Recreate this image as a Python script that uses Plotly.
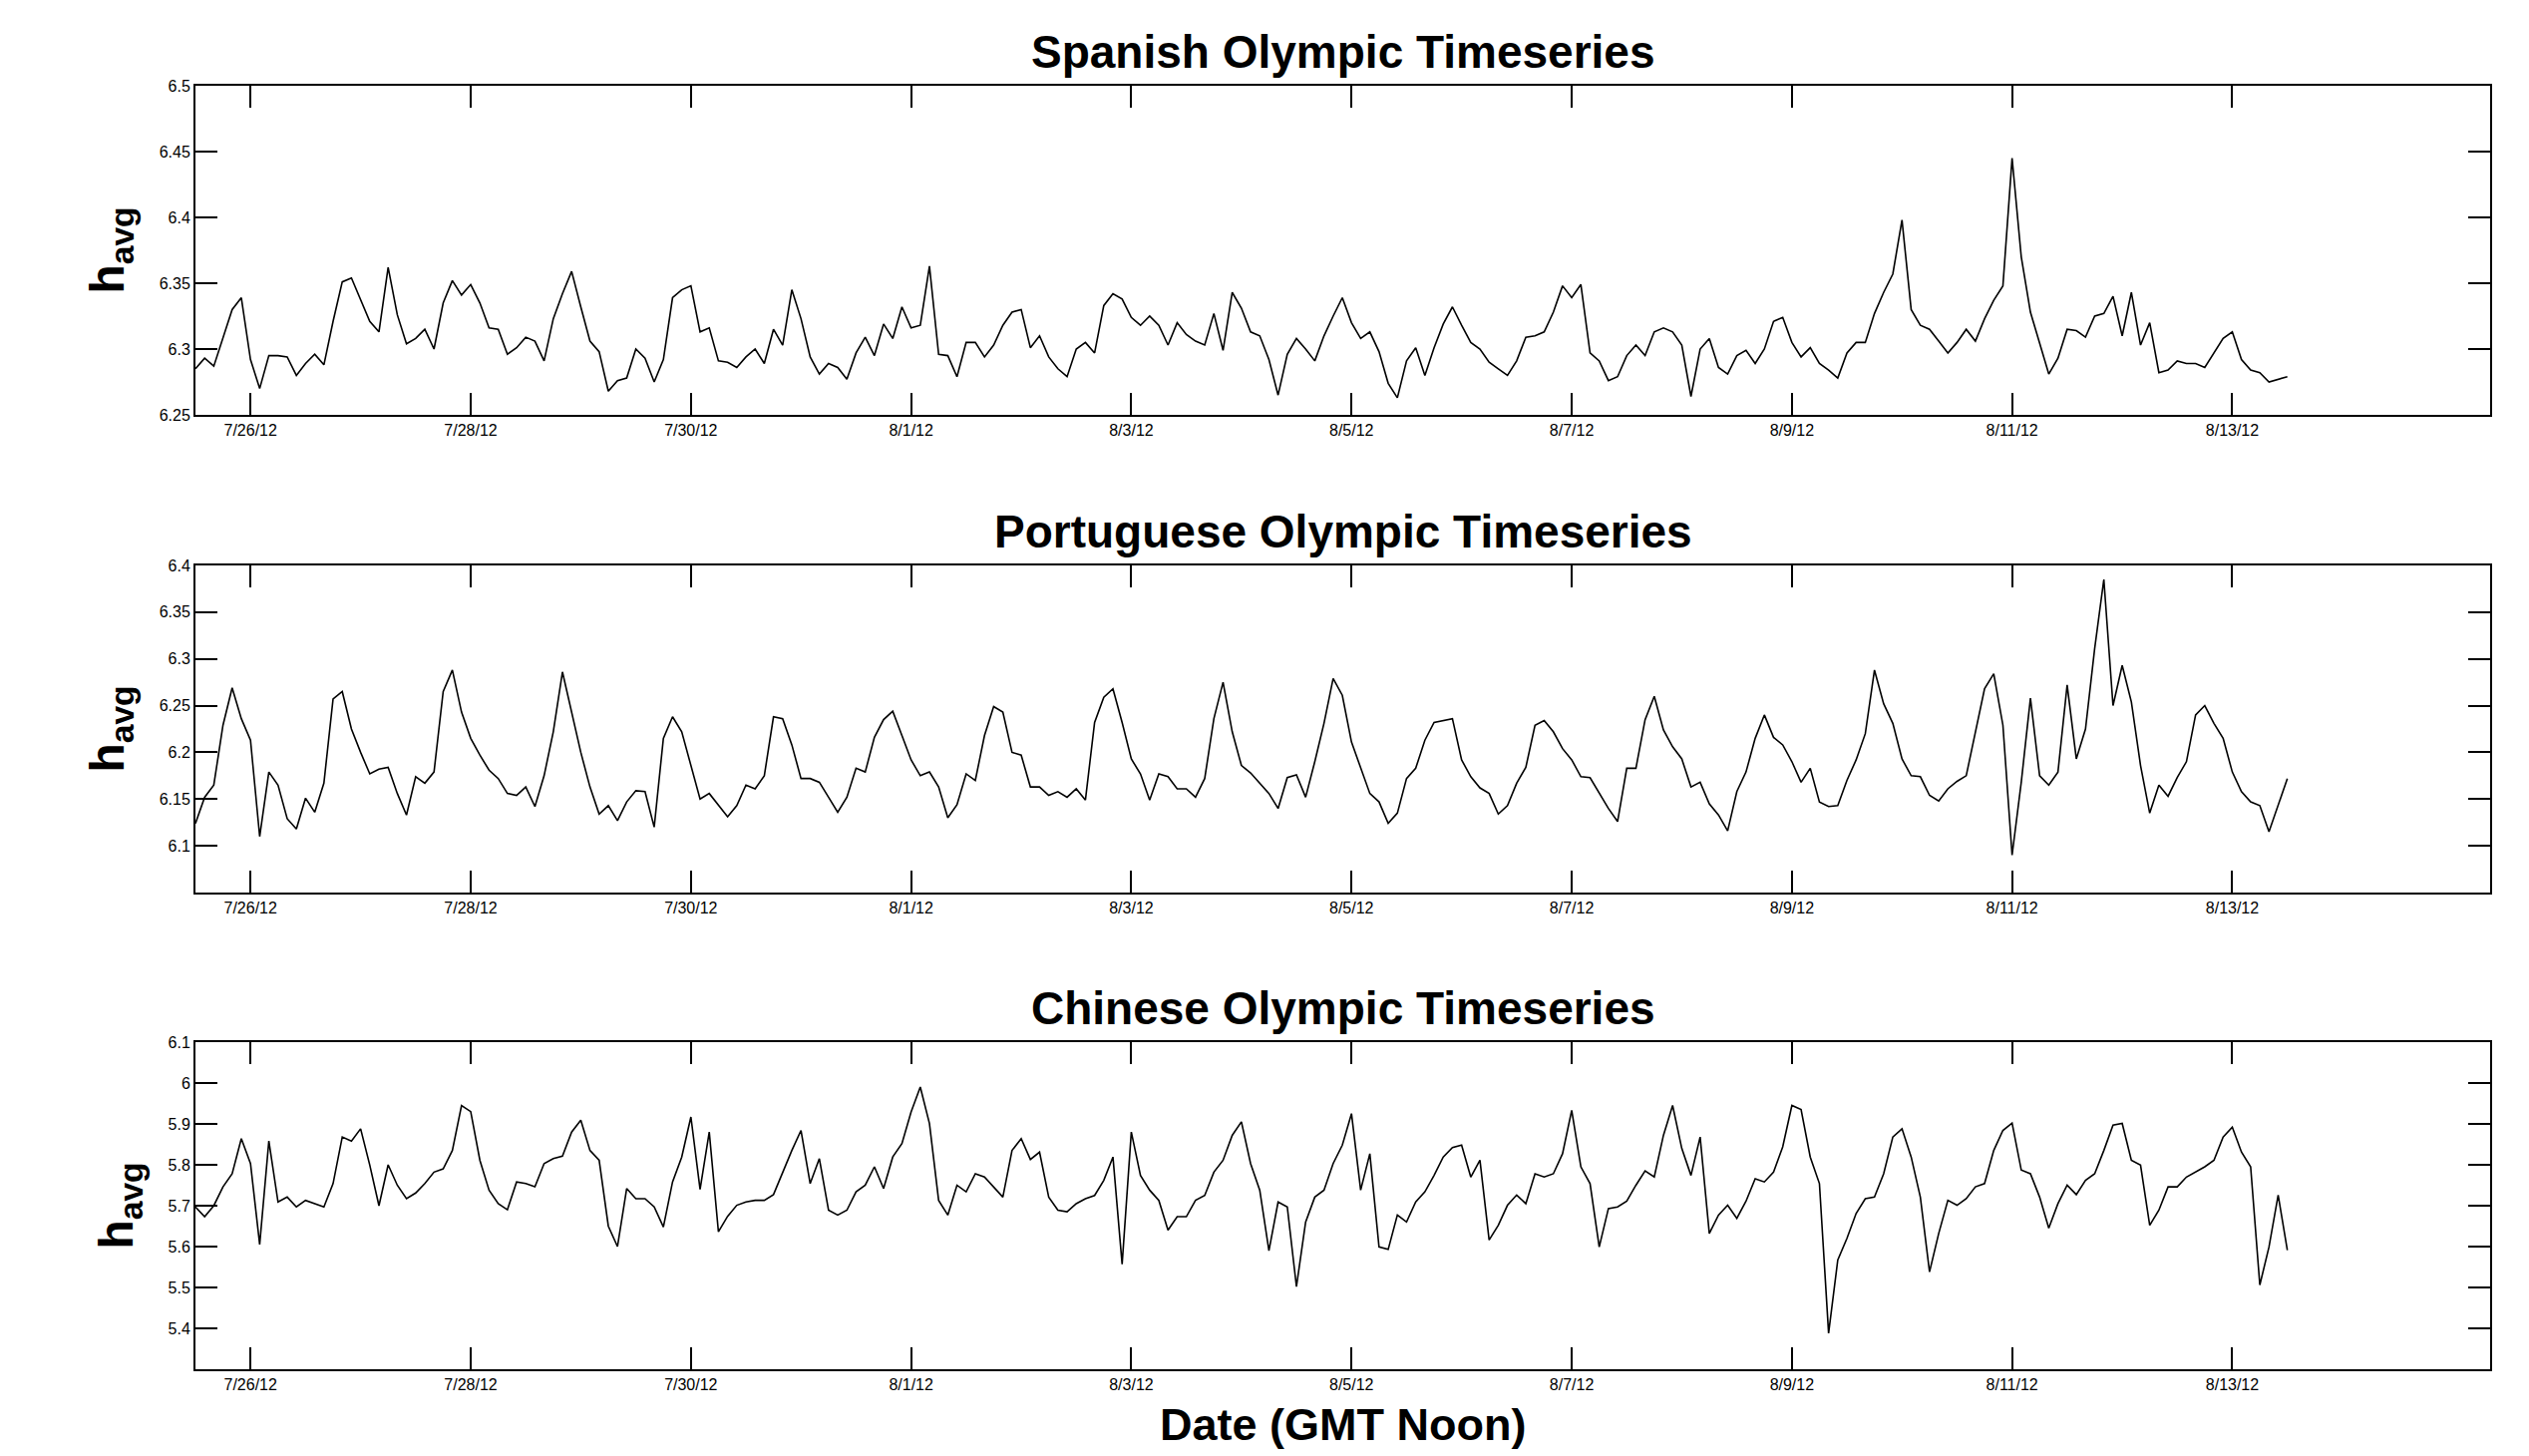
import plotly.graph_objects as go
import pandas as pd

# 2-hourly samples from 7/25/12 12:00 to 8/13/12 12:00 (GMT)
times = pd.date_range("2012-07-25 12:00", periods=229, freq="2h")

spanish = [
    6.285, 6.293, 6.287, 6.309, 6.330, 6.339,
    6.292, 6.270, 6.295, 6.295, 6.294, 6.280, 6.289, 6.296, 6.288, 6.321, 6.351, 6.354,
    6.337, 6.321, 6.313, 6.362, 6.326, 6.304, 6.308, 6.315, 6.300, 6.335, 6.352, 6.341,
    6.349, 6.335, 6.316, 6.315, 6.296, 6.301, 6.309, 6.306, 6.291, 6.323, 6.342, 6.359,
    6.332, 6.306, 6.298, 6.268, 6.276, 6.278, 6.300, 6.293, 6.275, 6.292, 6.339, 6.345,
    6.348, 6.313, 6.316, 6.291, 6.290, 6.286, 6.294, 6.300, 6.289, 6.315, 6.303, 6.345,
    6.323, 6.294, 6.281, 6.289, 6.286, 6.277, 6.297, 6.309, 6.295, 6.319, 6.308, 6.332,
    6.316, 6.318, 6.363, 6.296, 6.295, 6.279, 6.305, 6.305, 6.294, 6.303, 6.318, 6.328,
    6.330, 6.301, 6.310, 6.294, 6.285, 6.279, 6.300, 6.305, 6.297, 6.333, 6.342, 6.338,
    6.324, 6.318, 6.325, 6.318, 6.303, 6.320, 6.311, 6.306, 6.303, 6.327, 6.299, 6.343,
    6.331, 6.313, 6.310, 6.292, 6.265, 6.296, 6.308, 6.300, 6.291, 6.310, 6.325, 6.339,
    6.320, 6.308, 6.313, 6.298, 6.274, 6.263, 6.291, 6.301, 6.280, 6.301, 6.319, 6.332,
    6.318, 6.305, 6.300, 6.290, 6.285, 6.280, 6.291, 6.309, 6.310, 6.313, 6.328, 6.348,
    6.339, 6.349, 6.297, 6.291, 6.276, 6.279, 6.295, 6.303, 6.295, 6.313, 6.316, 6.313,
    6.303, 6.264, 6.300, 6.308, 6.286, 6.281, 6.295, 6.299, 6.289, 6.300, 6.321, 6.324,
    6.305, 6.294, 6.301, 6.289, 6.284, 6.278, 6.297, 6.305, 6.305, 6.327, 6.343, 6.357,
    6.398, 6.330, 6.318, 6.315, 6.306, 6.297, 6.305, 6.315, 6.306, 6.323, 6.337, 6.348,
    6.445, 6.370, 6.328, 6.305, 6.281, 6.293, 6.315, 6.314, 6.309, 6.325, 6.327, 6.340,
    6.310, 6.343, 6.303, 6.320, 6.282, 6.284, 6.291, 6.289, 6.289, 6.286, 6.297, 6.308,
    6.313, 6.292, 6.284, 6.282, 6.275, 6.277, 6.279,
]

portuguese = [
    6.124, 6.152, 6.165, 6.229, 6.269, 6.236,
    6.213, 6.110, 6.179, 6.165, 6.129, 6.118, 6.151, 6.136, 6.167, 6.257, 6.265, 6.225,
    6.200, 6.177, 6.182, 6.184, 6.156, 6.133, 6.174, 6.167, 6.179, 6.265, 6.288, 6.243,
    6.215, 6.197, 6.181, 6.172, 6.156, 6.154, 6.163, 6.142, 6.175, 6.222, 6.286, 6.243,
    6.200, 6.163, 6.134, 6.143, 6.127, 6.147, 6.159, 6.158, 6.120, 6.215, 6.238, 6.222,
    6.186, 6.150, 6.156, 6.143, 6.131, 6.143, 6.165, 6.161, 6.175, 6.238, 6.236, 6.208,
    6.172, 6.172, 6.168, 6.152, 6.136, 6.152, 6.183, 6.179, 6.216, 6.235, 6.244, 6.218,
    6.192, 6.175, 6.179, 6.163, 6.130, 6.144, 6.177, 6.170, 6.218, 6.249, 6.243, 6.200,
    6.197, 6.163, 6.163, 6.154, 6.158, 6.152, 6.161, 6.149, 6.232, 6.259, 6.268, 6.232,
    6.193, 6.177, 6.149, 6.177, 6.174, 6.161, 6.161, 6.152, 6.172, 6.236, 6.275, 6.222,
    6.186, 6.178, 6.167, 6.156, 6.140, 6.173, 6.176, 6.152, 6.190, 6.231, 6.279, 6.261,
    6.211, 6.183, 6.156, 6.147, 6.124, 6.135, 6.172, 6.183, 6.213, 6.232, 6.234, 6.236,
    6.192, 6.174, 6.162, 6.156, 6.134, 6.143, 6.167, 6.184, 6.229, 6.234, 6.222, 6.204,
    6.192, 6.174, 6.173, 6.156, 6.140, 6.126, 6.183, 6.183, 6.235, 6.260, 6.224, 6.206,
    6.193, 6.163, 6.168, 6.145, 6.133, 6.116, 6.158, 6.179, 6.215, 6.240, 6.216, 6.208,
    6.190, 6.168, 6.183, 6.147, 6.142, 6.143, 6.170, 6.192, 6.220, 6.288, 6.252, 6.231,
    6.193, 6.175, 6.174, 6.154, 6.148, 6.161, 6.169, 6.175, 6.222, 6.268, 6.284, 6.229,
    6.090, 6.168, 6.258, 6.175, 6.165, 6.179, 6.272, 6.193, 6.225, 6.311, 6.385, 6.250,
    6.293, 6.254, 6.186, 6.135, 6.165, 6.153, 6.173, 6.190, 6.240, 6.250, 6.231, 6.215,
    6.179, 6.158, 6.147, 6.143, 6.115, 6.143, 6.172,
]

chinese = [
    5.697, 5.673, 5.700, 5.746, 5.778, 5.864,
    5.803, 5.605, 5.858, 5.709, 5.721, 5.697, 5.713, 5.705, 5.697, 5.754, 5.868, 5.858,
    5.888, 5.799, 5.700, 5.800, 5.750, 5.717, 5.731, 5.754, 5.782, 5.790, 5.835, 5.945,
    5.930, 5.811, 5.738, 5.705, 5.690, 5.758, 5.754, 5.746, 5.803, 5.815, 5.821, 5.880,
    5.909, 5.835, 5.811, 5.650, 5.600, 5.742, 5.717, 5.717, 5.697, 5.648, 5.758, 5.819,
    5.917, 5.740, 5.880, 5.636, 5.674, 5.701, 5.709, 5.713, 5.713, 5.727, 5.782, 5.835,
    5.884, 5.754, 5.815, 5.689, 5.677, 5.689, 5.734, 5.750, 5.795, 5.742, 5.819, 5.852,
    5.929, 5.990, 5.901, 5.713, 5.677, 5.750, 5.734, 5.778, 5.770, 5.746, 5.721, 5.835,
    5.864, 5.813, 5.831, 5.721, 5.689, 5.685, 5.705, 5.717, 5.725, 5.762, 5.819, 5.557,
    5.880, 5.774, 5.738, 5.713, 5.640, 5.673, 5.673, 5.713, 5.725, 5.782, 5.811, 5.872,
    5.905, 5.803, 5.738, 5.590, 5.709, 5.697, 5.502, 5.660, 5.721, 5.738, 5.803, 5.848,
    5.925, 5.738, 5.827, 5.599, 5.593, 5.677, 5.660, 5.709, 5.734, 5.774, 5.819, 5.842,
    5.848, 5.770, 5.811, 5.616, 5.652, 5.701, 5.726, 5.705, 5.778, 5.770, 5.778, 5.827,
    5.933, 5.795, 5.754, 5.599, 5.693, 5.697, 5.711, 5.750, 5.785, 5.770, 5.872, 5.945,
    5.840, 5.774, 5.868, 5.632, 5.677, 5.701, 5.669, 5.711, 5.766, 5.758, 5.782, 5.844,
    5.945, 5.935, 5.819, 5.754, 5.388, 5.567, 5.620, 5.681, 5.717, 5.721, 5.778, 5.868,
    5.888, 5.819, 5.721, 5.538, 5.632, 5.713, 5.701, 5.717, 5.746, 5.754, 5.835, 5.884,
    5.902, 5.787, 5.778, 5.721, 5.645, 5.705, 5.750, 5.727, 5.762, 5.778, 5.835, 5.897,
    5.901, 5.811, 5.799, 5.652, 5.689, 5.746, 5.746, 5.770, 5.782, 5.795, 5.811, 5.868,
    5.892, 5.831, 5.795, 5.506, 5.599, 5.726, 5.591,
]

x_tick_dates = ["2012-07-26", "2012-07-28", "2012-07-30", "2012-08-01", "2012-08-03",
                "2012-08-05", "2012-08-07", "2012-08-09", "2012-08-11", "2012-08-13"]
x_tick_labels = ["7/26/12", "7/28/12", "7/30/12", "8/1/12", "8/3/12",
                 "8/5/12", "8/7/12", "8/9/12", "8/11/12", "8/13/12"]

es_ticks = [6.25, 6.3, 6.35, 6.4, 6.45, 6.5]
es_labels = ["6.25", "6.3", "6.35", "6.4", "6.45", "6.5"]
pt_ticks = [6.1, 6.15, 6.2, 6.25, 6.3, 6.35, 6.4]
pt_labels = ["6.1", "6.15", "6.2", "6.25", "6.3", "6.35", "6.4"]
cn_ticks = [5.4, 5.5, 5.6, 5.7, 5.8, 5.9, 6.0, 6.1]
cn_labels = ["5.4", "5.5", "5.6", "5.7", "5.8", "5.9", "6", "6.1"]

titles = ["Spanish Olympic Timeseries", "Portuguese Olympic Timeseries", "Chinese Olympic Timeseries"]

FONT = "Liberation Sans, Arial, Helvetica, sans-serif"

panels = [
    (spanish, [6.25, 6.5], es_ticks, es_labels, [0.7436, 1.0]),
    (portuguese, [6.05, 6.4], pt_ticks, pt_labels, [0.3714, 0.6263]),
    (chinese, [5.3, 6.1], cn_ticks, cn_labels, [0.0, 0.2549]),
]

x_range = ["2012-07-25 12:00", "2012-08-15 08:12"]

Y_TITLE = "<b>h<sub>avg</sub></b>"

fig = go.Figure()
layout = dict(
    width=2536, height=1460,
    margin=dict(l=188, r=47, t=78, b=95),
    paper_bgcolor="white", plot_bgcolor="white",
    showlegend=False,
    font=dict(family=FONT, color="black"),
    annotations=[],
)

for i, (vals, yr, yt, yl, dom) in enumerate(panels):
    n = "" if i == 0 else str(i + 1)
    fig.add_trace(go.Scatter(
        x=times, y=vals, mode="lines",
        line=dict(color="black", width=1.6),
        xaxis="x" + n, yaxis="y" + n, hoverinfo="skip",
    ))
    layout["xaxis" + n] = dict(
        domain=[0, 1], anchor="y" + n, range=x_range, type="date",
        tickmode="array", tickvals=x_tick_dates, ticktext=x_tick_labels,
        ticks="inside", ticklen=22, tickwidth=1.5, tickcolor="black",
        showline=True, linecolor="black", linewidth=2, mirror="ticks",
        showgrid=False, zeroline=False,
        tickfont=dict(family=FONT, size=16, color="black"),
    )
    layout["yaxis" + n] = dict(
        domain=dom, anchor="x" + n, range=yr,
        tickmode="array", tickvals=yt, ticktext=yl,
        ticks="inside", ticklen=22, tickwidth=1.5, tickcolor="black",
        showline=True, linecolor="black", linewidth=2, mirror="ticks",
        showgrid=False, zeroline=False,
        tickfont=dict(family=FONT, size=16, color="black"),
        title=dict(text=Y_TITLE, font=dict(family=FONT, size=48, color="black"), standoff=20),
    )
    layout["annotations"].append(dict(
        text="<b>" + titles[i] + "</b>", xref="paper", yref="paper",
        x=0.5, y=dom[1], xanchor="center", yanchor="bottom", yshift=6,
        showarrow=False, font=dict(family=FONT, size=46, color="black"),
    ))

layout["annotations"].append(dict(
    text="<b>Date (GMT Noon)</b>", xref="paper", yref="paper",
    x=0.5, y=0, xanchor="center", yanchor="top", yshift=-28,
    showarrow=False, font=dict(family=FONT, size=45, color="black"),
))

fig.update_layout(**layout)
fig.write_html("out.html")
